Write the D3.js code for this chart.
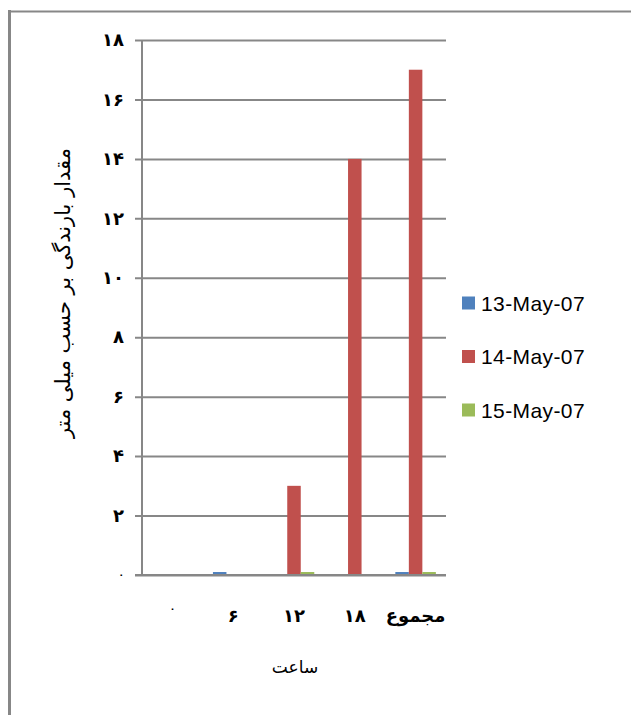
<!DOCTYPE html>
<html><head><meta charset="utf-8">
<script src="https://cdn.jsdelivr.net/npm/d3@7"></script>
<style>body{margin:0;background:#fff}svg{display:block}</style>
</head><body><svg id="c" width="631" height="715"></svg>
<script>
const categories = ["۰", "۶", "۱۲", "۱۸", "مجموع"];
const seriesNames = ["13-May-07", "14-May-07", "15-May-07"];
const may13 = [0, 0.1, 0, 0, 0.1];
const may14 = [0, 0, 3, 14, 17];
const may15 = [0, 0, 0.1, 0, 0.1];
const colors = ["#4f81bd", "#c0504d", "#9bbb59"];
const yTicks = [0, 2, 4, 6, 8, 10, 12, 14, 16, 18];
const yTickLabels = ["۰", "۲", "۴", "۶", "۸", "۱۰", "۱۲", "۱۴", "۱۶", "۱۸"];
const yTitle = "مقدار بارندگی بر حسب میلی متر";
const xTitle = "ساعت";

const series = [may13, may14, may15];
const svg = d3.select("#c");

// outer frame
svg.append("line").attr("x1", 9.5).attr("x2", 9.5).attr("y1", 10).attr("y2", 715).attr("stroke", "#878787").attr("stroke-width", 3);
svg.append("line").attr("x1", 8).attr("x2", 631).attr("y1", 11.5).attr("y2", 11.5).attr("stroke", "#878787").attr("stroke-width", 2);

const pL = 142, pR = 446, pT = 40, pB = 575;
const x = d3.scaleBand().domain(categories).range([pL, pR]).paddingInner(0).paddingOuter(0);
const y = d3.scaleLinear().domain([0, 18]).range([pB, pT]);
const barW = x.bandwidth() / 4.5;
const xs = d3.scaleBand().domain(seriesNames).range([0, barW * 3]);

// gridlines
const yAxis = d3.axisLeft(y).tickValues(yTicks).tickSize(-(pR - pL)).tickFormat((d, i) => yTickLabels[i]).tickPadding(18);
const gy = svg.append("g").attr("transform", `translate(${pL},0)`).call(yAxis);
gy.select(".domain").remove();
gy.selectAll(".tick line").attr("stroke", "#878787").attr("stroke-width", 2).attr("x1", -7);
gy.selectAll(".tick text").attr("font-family", "DejaVu Sans, sans-serif").attr("font-weight", "bold").attr("fill", "#000")
  .attr("font-size", (d) => d === 0 ? 9 : 18);

// bars
series.forEach((vals, si) => {
  svg.append("g").selectAll("rect").data(vals).join("rect")
    .attr("x", (d, i) => x(categories[i]) + (x.bandwidth() - barW * 3) / 2 + xs(seriesNames[si]))
    .attr("width", xs.bandwidth())
    .attr("y", d => y(d))
    .attr("height", d => y(0) - y(d))
    .attr("fill", colors[si]);
});

// y axis line and x axis line
svg.append("line").attr("x1", pL).attr("x2", pL).attr("y1", pT).attr("y2", pB).attr("stroke", "#878787").attr("stroke-width", 2);
svg.append("line").attr("x1", pL - 7).attr("x2", pR).attr("y1", pB).attr("y2", pB).attr("stroke", "#878787").attr("stroke-width", 2);

// x labels
const xAxis = d3.axisBottom(x).tickSize(0).tickPadding(34);
const gx = svg.append("g").attr("transform", `translate(0,${pB})`).call(xAxis);
gx.select(".domain").remove();
gx.selectAll(".tick text").attr("font-family", "DejaVu Sans, sans-serif").attr("font-weight", "bold").attr("fill", "#000")
  .attr("font-size", (d, i) => i === 0 ? 9 : 18).attr("dy", (d, i) => i === 0 ? "0.3em" : "0.71em");

// axis titles
svg.append("text").attr("x", 295).attr("y", 673).attr("text-anchor", "middle").attr("font-family", "DejaVu Sans, sans-serif").attr("font-size", 17).attr("fill", "#000").text(xTitle);
svg.append("text").attr("transform", "translate(70,293) rotate(-90)").attr("text-anchor", "middle").attr("font-family", "DejaVu Sans, sans-serif").attr("font-size", 21).attr("fill", "#000").text(yTitle);

// legend
const lg = svg.append("g").attr("transform", "translate(462,0)");
seriesNames.forEach((s, i) => {
  const cy = 303 + i * 53.5;
  lg.append("rect").attr("x", 0).attr("y", cy - 6.5).attr("width", 13).attr("height", 13).attr("fill", colors[i]);
  lg.append("text").attr("x", 19).attr("y", cy).attr("dy", "0.36em").attr("font-family", "Liberation Sans, Arial, sans-serif").attr("font-size", 21).attr("letter-spacing", 0.4).attr("fill", "#000").text(s);
});
</script></body></html>
